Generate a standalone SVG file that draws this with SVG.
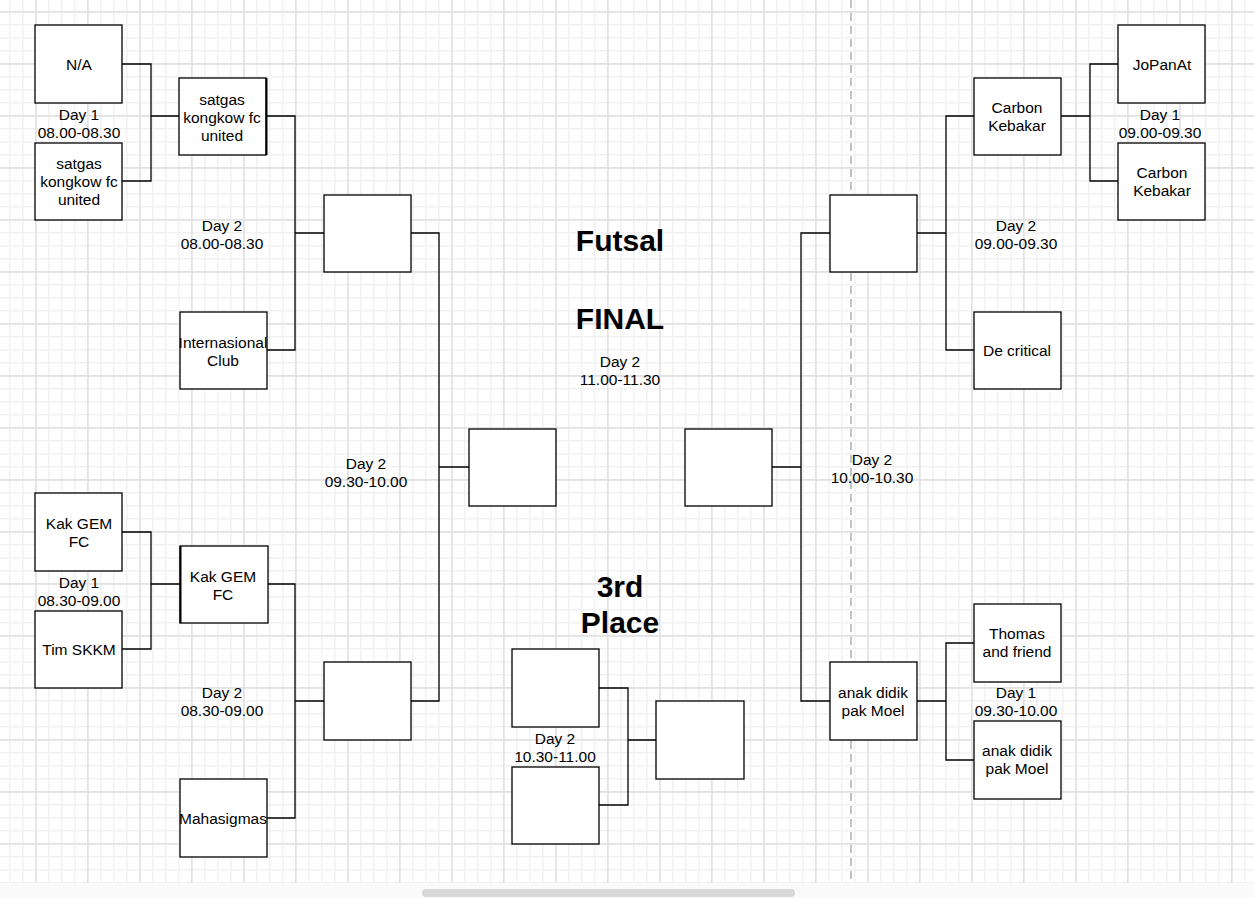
<svg xmlns="http://www.w3.org/2000/svg" width="1254" height="898" viewBox="0 0 1254 898">
<defs>
<pattern id="minor" x="9" y="-2" width="13" height="13" patternUnits="userSpaceOnUse">
<path d="M0 0.75H13M0.75 0V13" fill="none" stroke="#f2f2f2" stroke-width="1.5"/>
</pattern>
<pattern id="major" x="35" y="11" width="52" height="52" patternUnits="userSpaceOnUse">
<path d="M0 0.75H52M0.75 0V52" fill="none" stroke="#e2e2e2" stroke-width="1.8"/>
</pattern>
</defs>
<style>
.box{fill:#ffffff;stroke:#000000;stroke-width:1.3}
.wire{fill:none;stroke:#000000;stroke-width:1.3}
text{font-family:"Liberation Sans",Arial,Helvetica,sans-serif;fill:#000000}
.t{font-size:15.5px;text-anchor:middle}
.h{font-size:30px;font-weight:bold;text-anchor:middle}
</style>
<rect x="0" y="0" width="1254" height="898" fill="#ffffff"/>
<rect x="0" y="0" width="1254" height="883" fill="url(#minor)"/>
<rect x="0" y="0" width="1254" height="883" fill="url(#major)"/>
<rect x="0" y="883" width="1254" height="15" fill="#fafafa"/>
<rect x="422" y="889" width="373" height="8" rx="4" fill="#d8d8d8"/>
<line x1="851" y1="0" x2="851" y2="883" stroke="#b0b0b0" stroke-width="1.5" stroke-dasharray="8 5"/>

<g id="connectors">
<path class="wire" d="M122 64H151V181H122M151 116H179"/>
<path class="wire" d="M266 116H295V350H267M295 233H324"/>
<path class="wire" d="M122 532H151V649H122M151 584H180"/>
<path class="wire" d="M268 584H295V818H267M295 701H324"/>
<path class="wire" d="M411 233H439V701H411M439 467H469"/>
<path class="wire" d="M1118 64H1090V181H1118M1090 116H1061"/>
<path class="wire" d="M974 116H946V350H974M946 233H917"/>
<path class="wire" d="M917 701H946V643H974M946 701V760H974"/>
<path class="wire" d="M830 233H801V701H830M801 467H772"/>
<path class="wire" d="M599 688H628V805H599M628 740H656"/>
</g>

<g id="n-na"><rect class="box" x="35" y="25" width="87" height="78"/><text class="t" x="79" y="69.5">N/A</text></g>
<g id="n-satgas1"><rect class="box" x="35" y="143" width="87" height="77"/><text class="t" x="79" y="168.5">satgas</text><text class="t" x="79" y="186.5">kongkow fc</text><text class="t" x="79" y="204.5">united</text></g>
<g id="n-satgas2"><rect class="box" x="179" y="78" width="87" height="77"/><line x1="266.5" y1="78" x2="266.5" y2="155" stroke="#000" stroke-width="2"/><text class="t" x="222" y="104.5">satgas</text><text class="t" x="222" y="122.5">kongkow fc</text><text class="t" x="222" y="140.5">united</text></g>
<g id="n-internasional"><rect class="box" x="180" y="312" width="87" height="77"/><text class="t" x="223" y="347.5">Internasional</text><text class="t" x="223" y="365.5">Club</text></g>
<g id="n-qf-tl"><rect class="box" x="324" y="195" width="87" height="77"/></g>
<g id="n-kakgem1"><rect class="box" x="35" y="493" width="87" height="78"/><text class="t" x="79" y="528.5">Kak GEM</text><text class="t" x="79" y="546.5">FC</text></g>
<g id="n-timskkm"><rect class="box" x="35" y="611" width="87" height="77"/><text class="t" x="79" y="654.5">Tim SKKM</text></g>
<g id="n-kakgem2"><rect class="box" x="180" y="546" width="88" height="77"/><line x1="180.5" y1="546" x2="180.5" y2="623" stroke="#000" stroke-width="2"/><text class="t" x="223" y="581.5">Kak GEM</text><text class="t" x="223" y="599.5">FC</text></g>
<g id="n-mahasigmas"><rect class="box" x="180" y="779" width="87" height="78"/><text class="t" x="223" y="823.5">Mahasigmas</text></g>
<g id="n-qf-bl"><rect class="box" x="324" y="662" width="87" height="78"/></g>
<g id="n-sf-l"><rect class="box" x="469" y="429" width="87" height="77"/></g>

<g id="n-jopanat"><rect class="box" x="1118" y="25" width="87" height="78"/><text class="t" x="1162" y="69.5">JoPanAt</text></g>
<g id="n-carbon1"><rect class="box" x="1118" y="143" width="87" height="77"/><text class="t" x="1162" y="178">Carbon</text><text class="t" x="1162" y="196">Kebakar</text></g>
<g id="n-carbon2"><rect class="box" x="974" y="78" width="87" height="77"/><text class="t" x="1017" y="113">Carbon</text><text class="t" x="1017" y="131">Kebakar</text></g>
<g id="n-decritical"><rect class="box" x="974" y="312" width="87" height="77"/><text class="t" x="1017" y="355.5">De critical</text></g>
<g id="n-qf-tr"><rect class="box" x="830" y="195" width="87" height="77"/></g>
<g id="n-sf-r"><rect class="box" x="685" y="429" width="87" height="77"/></g>
<g id="n-anak2"><rect class="box" x="830" y="662" width="87" height="78"/><text class="t" x="873" y="698">anak didik</text><text class="t" x="873" y="716">pak Moel</text></g>
<g id="n-thomas"><rect class="box" x="974" y="604" width="87" height="78"/><text class="t" x="1017" y="639">Thomas</text><text class="t" x="1017" y="657">and friend</text></g>
<g id="n-anak1"><rect class="box" x="974" y="721" width="87" height="78"/><text class="t" x="1017" y="756">anak didik</text><text class="t" x="1017" y="774">pak Moel</text></g>

<g id="n-3rd-a"><rect class="box" x="512" y="649" width="87" height="78"/></g>
<g id="n-3rd-b"><rect class="box" x="512" y="767" width="87" height="77"/></g>
<g id="n-3rd-w"><rect class="box" x="656" y="701" width="88" height="78"/></g>

<g id="labels">
<text class="t" x="79" y="119.5">Day 1</text><text class="t" x="79" y="137.5">08.00-08.30</text>
<text class="t" x="222" y="230.5">Day 2</text><text class="t" x="222" y="248.5">08.00-08.30</text>
<text class="t" x="366" y="468.5">Day 2</text><text class="t" x="366" y="486.5">09.30-10.00</text>
<text class="t" x="79" y="587.5">Day 1</text><text class="t" x="79" y="605.5">08.30-09.00</text>
<text class="t" x="222" y="698">Day 2</text><text class="t" x="222" y="716">08.30-09.00</text>
<text class="t" x="1160" y="119.5">Day 1</text><text class="t" x="1160" y="138">09.00-09.30</text>
<text class="t" x="1016" y="230.5">Day 2</text><text class="t" x="1016" y="248.5">09.00-09.30</text>
<text class="t" x="872" y="464.5">Day 2</text><text class="t" x="872" y="482.5">10.00-10.30</text>
<text class="t" x="1016" y="698">Day 1</text><text class="t" x="1016" y="716">09.30-10.00</text>
<text class="t" x="620" y="366.5">Day 2</text><text class="t" x="620" y="385">11.00-11.30</text>
<text class="t" x="555" y="743.5">Day 2</text><text class="t" x="555" y="762">10.30-11.00</text>
</g>
<g id="titles">
<text class="h" x="620" y="251">Futsal</text>
<text class="h" x="620" y="329">FINAL</text>
<text class="h" x="620" y="597">3rd</text>
<text class="h" x="620" y="633">Place</text>
</g>
</svg>
